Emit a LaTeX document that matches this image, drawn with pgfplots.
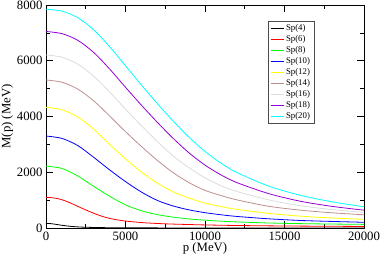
\documentclass[border=0pt]{standalone}
\usepackage{pgfplots}
\pgfplotsset{compat=1.18}
\usepackage{fontspec}
\setmainfont{Liberation Serif}
\definecolor{gbrown}{RGB}{188,143,143}
\definecolor{ggrey}{RGB}{220,220,220}
\definecolor{gviolet}{RGB}{148,0,211}
\definecolor{ggreen}{RGB}{0,255,0}
\definecolor{gyellow}{RGB}{255,255,0}
\definecolor{gcyan}{RGB}{0,255,255}
\begin{document}
\begin{tikzpicture}
\begin{axis}[
  scale only axis, width=318bp, height=223bp,
  xmin=0, xmax=20000, ymin=0, ymax=8000,
  xtick={0,5000,10000,15000,20000},
  ytick={0,2000,4000,6000,8000},
  minor x tick num=1, minor y tick num=1,
  tick align=inside,
  major tick length=7bp, minor tick length=4bp,
  scaled ticks=false,
  /pgf/number format/.cd, 1000 sep={}, assume math mode=true,
  /pgfplots/.cd,
  tick label style={font=\fontsize{12.8}{14}\selectfont},
  label style={font=\fontsize{12.8}{14}\selectfont},
  xlabel={p (MeV)}, ylabel={M(p) (MeV)},
  xlabel style={yshift=4bp},
  ylabel style={yshift=-3bp},
  axis line style={line width=0.8bp},
  every tick/.style={black, line width=0.6bp},
  legend cell align=left,
  legend style={at={(0.698,0.928)}, anchor=north west, draw=black!70, line width=0.6bp,
    font=\fontsize{8.8}{10}\selectfont, inner xsep=2bp, inner ysep=1.5bp,
    row sep=-0.6bp},
  legend image code/.code={\draw[#1] (0bp,0bp) -- (13bp,0bp);},
  every axis plot/.append style={line width=0.8bp, smooth, no marks},
]
\addplot[black] coordinates {(0,165) (250,160) (500,142) (1000,98) (1500,62) (2000,40) (2500,27) (3500,14) (5000,7) (7500,3) (10000,1) (15000,0) (20000,0)};
\addlegendentry{Sp(4)}
\addplot[red] coordinates {(0,1100) (500,1079) (1000,1015) (1500,907) (2000,776) (2500,648) (3000,529) (3500,424) (4000,345) (4500,290) (5000,250) (6000,195) (7000,162) (8000,140) (10000,110) (12000,90) (15000,72) (20000,55)};
\addlegendentry{Sp(6)}
\addplot[ggreen] coordinates {(0,2220) (1000,2138) (2000,1867) (3000,1494) (4000,1141) (5000,830) (6000,620) (7000,480) (8000,390) (9000,325) (10000,280) (11000,245) (12000,218) (14000,180) (16000,157) (18000,142) (20000,130)};
\addlegendentry{Sp(8)}
\addplot[blue] coordinates {(0,3300) (1000,3214) (2000,2957) (3000,2535) (4000,2086) (5000,1664) (6000,1290) (7000,990) (8000,790) (9000,650) (10000,550) (11000,475) (12000,415) (14000,330) (16000,270) (18000,235) (20000,205)};
\addlegendentry{Sp(10)}
\addplot[gyellow] coordinates {(0,4330) (1000,4243) (2000,3984) (3000,3546) (4000,3000) (5000,2480) (6000,2010) (7000,1610) (8000,1300) (9000,1070) (10000,895) (11000,770) (12000,670) (14000,525) (16000,425) (18000,360) (20000,310)};
\addlegendentry{Sp(12)}
\addplot[gbrown] coordinates {(0,5310) (1000,5230) (2000,4983) (3000,4562) (4000,4020) (5000,3457) (6000,2925) (7000,2425) (8000,1985) (9000,1625) (10000,1350) (11000,1165) (12000,1010) (14000,780) (16000,640) (18000,545) (20000,475)};
\addlegendentry{Sp(14)}
\addplot[ggrey] coordinates {(0,6210) (1000,6129) (2000,5881) (3000,5446) (4000,4881) (5000,4266) (6000,3670) (7000,3105) (8000,2583) (9000,2160) (10000,1800) (11000,1520) (12000,1310) (14000,1010) (16000,800) (18000,660) (20000,560)};
\addlegendentry{Sp(16)}
\addplot[gviolet] coordinates {(0,7050) (1000,6973) (2000,6733) (3000,6296) (4000,5705) (5000,5048) (6000,4406) (7000,3793) (8000,3215) (9000,2693) (10000,2256) (11000,1907) (12000,1630) (14000,1235) (16000,960) (18000,775) (20000,640)};
\addlegendentry{Sp(18)}
\addplot[gcyan] coordinates {(0,7850) (1000,7780) (2000,7545) (3000,7110) (4000,6505) (5000,5820) (6000,5130) (7000,4465) (8000,3835) (9000,3255) (10000,2748) (11000,2328) (12000,1991) (14000,1504) (16000,1172) (18000,938) (20000,760)};
\addlegendentry{Sp(20)}
\end{axis}
\pgfresetboundingbox
\path (-46bp,-29bp) rectangle (336bp,228bp);
\end{tikzpicture}
\end{document}
